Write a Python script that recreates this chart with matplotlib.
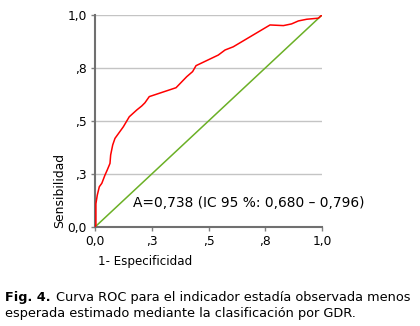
import matplotlib
matplotlib.use("Agg")
from matplotlib import pyplot as plt

# ROC curve points (1 - specificity, sensitivity)
fpr = [0.0, 0.004, 0.004, 0.01, 0.019, 0.03, 0.044, 0.054, 0.066, 0.069, 0.078,
       0.088, 0.125, 0.151, 0.184, 0.206, 0.22, 0.239, 0.357, 0.404, 0.43, 0.445,
       0.543, 0.573, 0.609, 0.771, 0.83, 0.866, 0.896, 0.933, 0.984, 1.0]
tpr = [0.0, 0.009, 0.11, 0.15, 0.19, 0.206, 0.245, 0.269, 0.30, 0.34, 0.387,
       0.418, 0.473, 0.52, 0.552, 0.571, 0.586, 0.615, 0.657, 0.709, 0.733, 0.761,
       0.811, 0.835, 0.85, 0.953, 0.95, 0.958, 0.972, 0.98, 0.985, 1.0]

ref_line = [0.0, 1.0]
tick_pos = [0.0, 0.25, 0.5, 0.75, 1.0]
tick_labels = ["0,0", ",3", ",5", ",8", "1,0"]

plt.rcParams['font.family'] = ['DejaVu Sans']

fig = plt.figure(figsize=(4.2, 3.26), dpi=100)
ax = fig.add_axes([95 / 420, 1 - 227 / 326, 227 / 420, 212 / 326])

for y in tick_pos[1:]:
    ax.axhline(y, color="#c4c4c4", lw=1, zorder=0)

ax.plot(ref_line, ref_line, color="#6bb026", lw=1.1, zorder=2)
ax.plot(fpr, tpr, color="#ff0000", lw=1.1, zorder=3)

ax.set_xlim(0, 1)
ax.set_ylim(0, 1)
ax.set_xticks(tick_pos)
ax.set_xticklabels(tick_labels, fontsize=8.8)
ax.set_yticks(tick_pos)
ax.set_yticklabels(tick_labels, fontsize=8.8)
ax.tick_params(direction="out", length=3, width=1, color="#808080", pad=3)

ax.spines["right"].set_visible(False)
ax.spines["top"].set_visible(False)
for side in ["left", "bottom"]:
    ax.spines[side].set_color("#707070")
    ax.spines[side].set_linewidth(1.5)

ax.text(0.167, 0.115, "A=0,738 (IC 95 %: 0,680 \u2013 0,796)", fontsize=9.9,
        transform=ax.transAxes, va="center", ha="left", clip_on=False)

fig.text(60 / 420, 1 - 191 / 326, "Sensibilidad", rotation=90, fontsize=8.9,
         ha="center", va="center")
fig.text(98 / 420, 1 - 262 / 326, "1- Especificidad", fontsize=8.6,
         ha="left", va="center")

# caption below the chart
fig.text(5 / 420, 1 - 297 / 326, "Fig. 4.", fontsize=9.2, fontweight="bold",
         ha="left", va="center")
fig.text(56 / 420, 1 - 297 / 326, "Curva ROC para el indicador estadía observada menos",
         fontsize=9.3, ha="left", va="center")
fig.text(5 / 420, 1 - 314 / 326, "esperada estimado mediante la clasificación por GDR.",
         fontsize=9.3, ha="left", va="center")

fig.savefig("out.png", dpi=100)
